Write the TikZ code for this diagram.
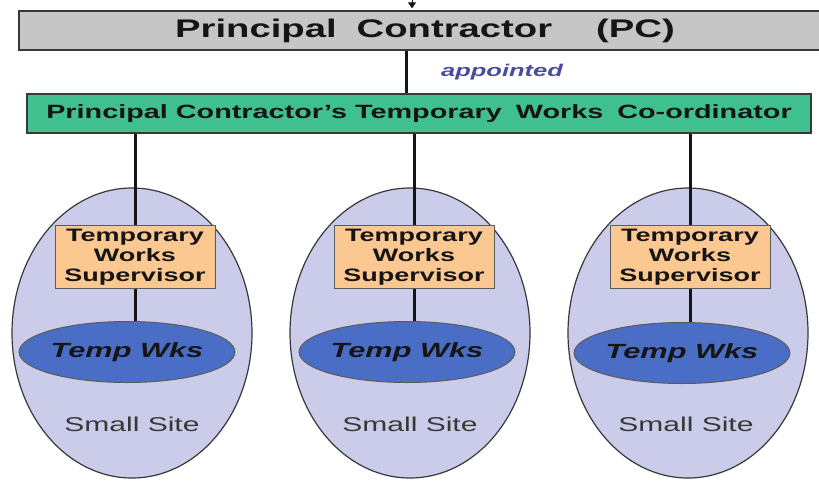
\documentclass[tikz,border=0pt]{standalone}
\usepackage{fontspec}
\setmainfont{Liberation Sans}
\usepackage{xcolor}
\definecolor{ink}{HTML}{151515}
\definecolor{pcgrey}{HTML}{C6C6C6}
\definecolor{coord}{HTML}{40BF8F}
\definecolor{site}{HTML}{CBCBEA}
\definecolor{super}{HTML}{FBC891}
\definecolor{wks}{HTML}{4A6EC6}
\definecolor{appt}{HTML}{4B4B9E}
\usepackage{tikz}
\usetikzlibrary{arrows.meta, positioning, shapes.geometric}
% the lettering is set wide, as on a stretched slide
\newcommand\wide[1]{\scalebox{1.5}[1]{#1}}
\tikzset{
  >={Triangle[length=6pt, width=8pt]},
  bar/.style={draw=ink!85, line width=1.3pt, inner sep=0pt, text=ink},
  pcbox/.style={bar, fill=pcgrey, font=\bfseries\fontsize{25.5}{30}\selectfont},
  cobox/.style={bar, fill=coord, font=\bfseries\fontsize{19.2}{24}\selectfont},
  site/.style={ellipse, draw=ink!85, line width=1.2pt, fill=site, inner sep=0pt,
    minimum width=240pt, minimum height=290pt},
  sup/.style={bar, draw=ink!70, line width=1pt, fill=super, align=center,
    minimum width=160pt, minimum height=63pt, font=\bfseries\fontsize{18}{20}\selectfont},
  wks/.style={ellipse, draw=ink!70, line width=1pt, fill=wks, inner sep=0pt,
    minimum width=214pt, minimum height=61pt, text=ink,
    font=\bfseries\itshape\fontsize{20.5}{24}\selectfont},
  small/.style={text=ink!85, font=\fontsize{20}{24}\selectfont, inner sep=0pt},
  tag/.style={text=appt, font=\bfseries\itshape\fontsize{17}{20}\selectfont, inner sep=0pt},
  link/.style={line width=3pt, color=ink},
  feed/.style={->, line width=1pt, color=ink},
}

\begin{document}
\begin{tikzpicture}[x=1pt, y=-1pt]
  \clip (0,0) rectangle (819,480);

  \node[pcbox, minimum width=812pt, minimum height=39pt] (pc) at (425,30.5)
    {\wide{Principal}\hspace{20pt}\wide{Contractor}\hspace{44pt}\wide{(PC)}};
  \node[cobox, minimum width=784pt, minimum height=39pt] (tw) at (419,113.5)
    {\wide{Principal Contractor's Temporary}\hspace{14pt}\wide{Works}\hspace{14pt}\wide{Co-ordinator}};

  \coordinate (feedin) at (412,-1);
  \coordinate (drop) at (406,0);
  \draw[feed, shorten >=2pt] (feedin) -- (feedin |- pc.north);
  \draw[link] (pc.south -| drop) -- (tw.north -| drop);
  \node[tag] (appt) at (502,72) {\wide{appointed}};

  % the three small sites
  \node[site] (site1) at (132,333) {};
  \node[site] (site2) at (410,333) {};
  \node[site] (site3) at (688,333) {};

  \node[sup] (sup1) at (135,257) {\wide{Temporary}\\\wide{Works}\\\wide{Supervisor}};
  \node[sup] (sup2) at (414,257) {\wide{Temporary}\\\wide{Works}\\\wide{Supervisor}};
  \node[sup] (sup3) at (690,257) {\wide{Temporary}\\\wide{Works}\\\wide{Supervisor}};

  \node[wks] (wks1) at (127,352) {\wide{Temp Wks}};
  \node[wks] (wks2) at (407,352) {\wide{Temp Wks}};
  \node[wks] (wks3) at (682,353) {\wide{Temp Wks}};

  \node[small] (ss1) at (132,424) {\wide{Small Site}};
  \node[small] (ss2) at (410,424) {\wide{Small Site}};
  \node[small] (ss3) at (686,424) {\wide{Small Site}};

  \draw[link] (tw.south -| sup1.north) -- (sup1.north);
  \draw[link] (tw.south -| sup2.north) -- (sup2.north);
  \draw[link] (tw.south -| sup3.north) -- (sup3.north);
  \draw[link] (sup1.south) -- (sup1.south |- wks1.north);
  \draw[link] (sup2.south) -- (sup2.south |- wks2.north);
  \draw[link] (sup3.south) -- (sup3.south |- wks3.north);
\end{tikzpicture}
\end{document}
